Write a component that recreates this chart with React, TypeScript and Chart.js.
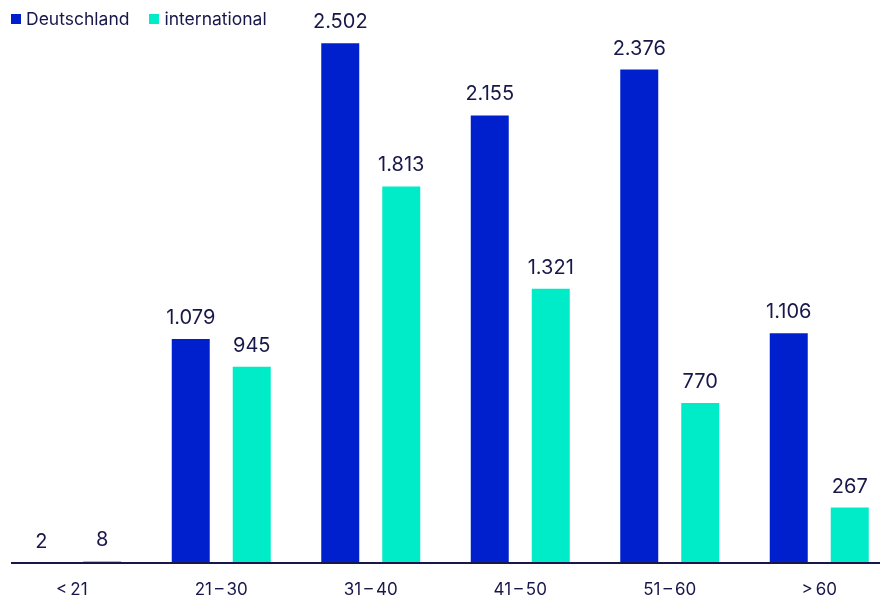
import React, { useEffect, useRef } from "react";
import { Chart, registerables } from "chart.js";

Chart.register(...registerables);

const categories = ["<\u200921", "21\u2009\u2013\u200930", "31\u2009\u2013\u200940", "41\u2009\u2013\u200950", "51\u2009\u2013\u200960", ">\u200960"];
const deutschland = [2, 1079, 2502, 2155, 2376, 1106];
const international = [8, 945, 1813, 1321, 770, 267];
const seriesNames = ["Deutschland", "international"];

const BLUE = "#0020CE";
const TEAL = "#00EBC8";
const NAVY = "#17174A";
const FONT = "Inter, 'Noto Sans', sans-serif";

const fmt = new Intl.NumberFormat("de-DE");

const labelPlugin = {
  id: "barLabels",
  afterDatasetsDraw(chart: any) {
    const ctx = chart.ctx;
    ctx.save();
    ctx.fillStyle = NAVY;
    ctx.font = `400 20px ${FONT}`;
    ctx.textAlign = "center";
    ctx.textBaseline = "alphabetic";
    chart.data.datasets.forEach((ds: any, di: number) => {
      const meta = chart.getDatasetMeta(di);
      meta.data.forEach((bar: any, i: number) => {
        ctx.fillText(fmt.format(ds.data[i]), bar.x, bar.y - 15);
      });
    });
    ctx.restore();
  },
};

const axisLinePlugin = {
  id: "axisLine",
  afterDatasetsDraw(chart: any) {
    const { ctx, chartArea } = chart;
    ctx.save();
    ctx.strokeStyle = NAVY;
    ctx.lineWidth = 2;
    ctx.beginPath();
    ctx.moveTo(chartArea.left + 14, chartArea.bottom);
    ctx.lineTo(chart.width, chartArea.bottom);
    ctx.stroke();
    ctx.restore();
  },
};

export default function App() {
  const ref = useRef<HTMLCanvasElement | null>(null);
  useEffect(() => {
    if (!ref.current) return;
    const chart = new Chart(ref.current, {
      type: "bar",
      data: {
        labels: categories,
        datasets: [
          { label: seriesNames[0], data: deutschland, backgroundColor: BLUE, borderWidth: 0 },
          { label: seriesNames[1], data: international, backgroundColor: TEAL, borderWidth: 0 },
        ],
      },
      options: {
        animation: false,
        responsive: false,
        maintainAspectRatio: false,
        categoryPercentage: 0.816,
        barPercentage: 0.623,
        layout: { padding: { left: 17, right: 6, top: 23, bottom: 0 } },
        plugins: {
          legend: { display: false },
          tooltip: { enabled: false },
        },
        scales: {
          x: {
            offset: true,
            grid: { display: false, drawTicks: false },
            border: { display: false },
            ticks: {
              color: NAVY,
              font: { family: FONT, size: 17 },
              padding: 17,
              maxRotation: 0,
            },
            afterFit: (scale: any) => {
              scale.height = 37;
            },
          },
          y: {
            display: false,
            min: 0,
            max: 2600,
          },
        },
      },
      plugins: [labelPlugin, axisLinePlugin],
    });
    return () => chart.destroy();
  }, []);

  const legendItem = (color: string, text: string) => (
    <div style={{ display: "flex", alignItems: "center", marginRight: 20 }}>
      <div style={{ width: 10, height: 10, background: color, marginRight: 5 }} />
      <span>{text}</span>
    </div>
  );

  return (
    <div style={{ position: "fixed", left: 0, top: 0, width: 880, height: 600, overflow: "hidden", background: "#fff" }}>
      <div style={{ position: "absolute", left: -20, top: 0, width: 920, height: 600 }}>
        <canvas ref={ref} width={920} height={600} style={{ width: 920, height: 600 }} />
      </div>
      <div
        style={{
          position: "absolute",
          left: 11,
          top: 8,
          display: "flex",
          fontFamily: FONT,
          fontSize: 17.5,
          color: NAVY,
          lineHeight: "22px",
        }}
      >
        {legendItem(BLUE, seriesNames[0])}
        {legendItem(TEAL, seriesNames[1])}
      </div>
    </div>
  );
}
